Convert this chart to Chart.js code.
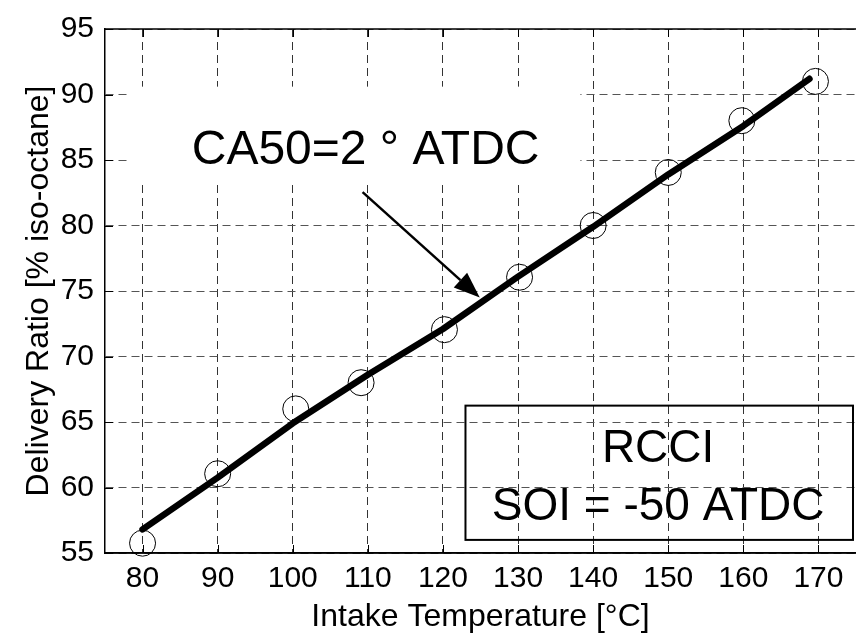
<!DOCTYPE html>
<html><head><meta charset="utf-8">
<script src="https://cdn.jsdelivr.net/npm/chart.js@4/dist/chart.umd.min.js"></script>
<style>
html,body{margin:0;padding:0;background:#fff;overflow:hidden;width:856px;height:642px}
#wrap{position:relative;width:870px;height:642px}
</style>
</head><body><div id="wrap"><canvas id="c" width="870" height="642"></canvas></div>
<script>
// ---- data ----
const temperatures = [80, 90, 100.4, 109.1, 120.2, 130.2, 140, 150, 159.8, 169.6];
const deliveryRatio = [55.75, 61.05, 66.0, 68.0, 72.05, 76.05, 80.0, 84.05, 88.0, 91.0];
const fitTemperatures = [80, 90, 100, 110, 120, 130, 140, 150, 160, 168.8];
const fitDeliveryRatio = [56.8, 60.75, 64.9, 68.6, 72.1, 76.1, 79.9, 83.9, 87.6, 91.2];
const xTickValues = [80, 90, 100, 110, 120, 130, 140, 150, 160, 170];
const yTickValues = [55, 60, 65, 70, 75, 80, 85, 90, 95];
const xTitle = 'Intake Temperature [°C]';
const yTitle = 'Delivery Ratio [% iso-octane]';
const annotationText = 'CA50=2 ° ATDC';
const boxLines = ['RCCI', 'SOI = -50 ATDC'];

// ---- annotation placement (data units) ----
const labelAnchor = {x: 109.7, y: 84.72};
const labelBg = {x0: 78.4, x1: 138.3, y0: 90.6, y1: 83.15};
const arrowFrom = {x: 109.3, y: 82.55};
const arrowTo = {x: 124.9, y: 74.5};
const infoBox = {x0: 123.0, x1: 174.6, y0: 66.25, y1: 56.0, cx: 148.65, base1: 61.92, base2: 57.54};

const F = "'Liberation Sans', Arial, Helvetica, sans-serif";

const decor = {
  id: 'decor',
  beforeDatasetsDraw(chart) {
    const {ctx, chartArea: a, scales: {x, y}} = chart;
    ctx.save();
    const l = x.getPixelForValue(labelBg.x0), r = x.getPixelForValue(labelBg.x1);
    const t = y.getPixelForValue(labelBg.y0), b = y.getPixelForValue(labelBg.y1);
    ctx.fillStyle = '#fff';
    ctx.fillRect(l, t, r - l, b - t);
    ctx.strokeStyle = '#000';
    ctx.lineWidth = 1;
    ctx.setLineDash([]);
    ctx.beginPath();
    xTickValues.forEach(v => {
      const px = Math.round(x.getPixelForValue(v)) + 0.5;
      ctx.moveTo(px, a.bottom); ctx.lineTo(px, a.bottom - 8);
      ctx.moveTo(px, a.top); ctx.lineTo(px, a.top + 8);
    });
    yTickValues.forEach(v => {
      const py = Math.round(y.getPixelForValue(v)) + 0.5;
      ctx.moveTo(a.left, py); ctx.lineTo(a.left + 8, py);
    });
    ctx.stroke();
    ctx.lineWidth = 1.5;
    ctx.beginPath();
    ctx.moveTo(a.left, a.top); ctx.lineTo(a.right, a.top);
    ctx.moveTo(a.left, a.bottom); ctx.lineTo(a.right, a.bottom);
    ctx.stroke();
    ctx.restore();
  },
  afterDatasetsDraw(chart) {
    const {ctx, scales: {x, y}} = chart;
    ctx.save();
    ctx.fillStyle = '#000';
    ctx.strokeStyle = '#000';
    ctx.font = '48px ' + F;
    ctx.textAlign = 'center';
    ctx.textBaseline = 'alphabetic';
    ctx.fillText(annotationText, x.getPixelForValue(labelAnchor.x), y.getPixelForValue(labelAnchor.y));
    const x0 = x.getPixelForValue(arrowFrom.x), y0 = y.getPixelForValue(arrowFrom.y);
    const x1 = x.getPixelForValue(arrowTo.x), y1 = y.getPixelForValue(arrowTo.y);
    const ang = Math.atan2(y1 - y0, x1 - x0);
    const hl = 26, hw = 10;
    const bx = x1 - hl * Math.cos(ang), by = y1 - hl * Math.sin(ang);
    ctx.lineWidth = 2.5;
    ctx.beginPath(); ctx.moveTo(x0, y0); ctx.lineTo(bx, by); ctx.stroke();
    ctx.beginPath();
    ctx.moveTo(x1, y1);
    ctx.lineTo(bx + hw * Math.sin(ang), by - hw * Math.cos(ang));
    ctx.lineTo(bx - hw * Math.sin(ang), by + hw * Math.cos(ang));
    ctx.closePath(); ctx.fill();
    const bl = x.getPixelForValue(infoBox.x0), br = x.getPixelForValue(infoBox.x1);
    const bt = y.getPixelForValue(infoBox.y0), bb = y.getPixelForValue(infoBox.y1);
    ctx.lineWidth = 2;
    ctx.strokeRect(bl, bt, br - bl, bb - bt);
    ctx.font = '46px ' + F;
    const cx = x.getPixelForValue(infoBox.cx);
    ctx.fillText(boxLines[0], cx, y.getPixelForValue(infoBox.base1));
    ctx.fillText(boxLines[1], cx, y.getPixelForValue(infoBox.base2));
    ctx.restore();
  }
};

new Chart(document.getElementById('c'), {
  type: 'scatter',
  data: {
    datasets: [
      {
        label: 'fit',
        data: fitTemperatures.map((v, i) => ({x: v, y: fitDeliveryRatio[i]})),
        showLine: true, borderColor: '#000', borderWidth: 6.5, pointRadius: 0,
        tension: 0, fill: false, borderCapStyle: 'round', borderJoinStyle: 'round'
      },
      {
        label: 'measured',
        data: temperatures.map((v, i) => ({x: v, y: deliveryRatio[i]})),
        showLine: false, pointRadius: 13, pointStyle: 'circle',
        pointBorderColor: '#000', pointBackgroundColor: 'rgba(0,0,0,0)', pointBorderWidth: 1,
        clip: false
      }
    ]
  },
  options: {
    responsive: false, animation: false, devicePixelRatio: 1,
    layout: {padding: {left: 0, right: 10, top: 20, bottom: 0}},
    plugins: {legend: {display: false}, tooltip: {enabled: false}},
    scales: {
      x: {
        type: 'linear', min: 75, max: 175,
        afterBuildTicks: s => { s.ticks = xTickValues.map(v => ({value: v})); },
        afterFit: s => { s.height = 89; },
        grid: {color: '#333', lineWidth: 1, drawTicks: false},
        border: {display: true, color: '#000', width: 1.5, dash: [8, 5]},
        ticks: {color: '#000', font: {family: F, size: 30}, padding: 8, maxRotation: 0, autoSkip: false},
        title: {display: true, text: xTitle, color: '#000', font: {family: F, size: 32}, padding: {top: 0, bottom: 6}}
      },
      y: {
        type: 'linear', min: 55, max: 95,
        afterBuildTicks: s => { s.ticks = yTickValues.map(v => ({value: v})); },
        afterFit: s => { s.width = 105; },
        grid: {color: '#555', lineWidth: 1, drawTicks: false},
        border: {display: true, color: '#000', width: 1.5, dash: [8, 5]},
        ticks: {color: '#000', font: {family: F, size: 30}, padding: 11, autoSkip: false},
        title: {display: true, text: yTitle, color: '#000', font: {family: F, size: 32}, padding: {top: 20, bottom: 0}}
      }
    }
  },
  plugins: [decor]
});
</script>
</body></html>
